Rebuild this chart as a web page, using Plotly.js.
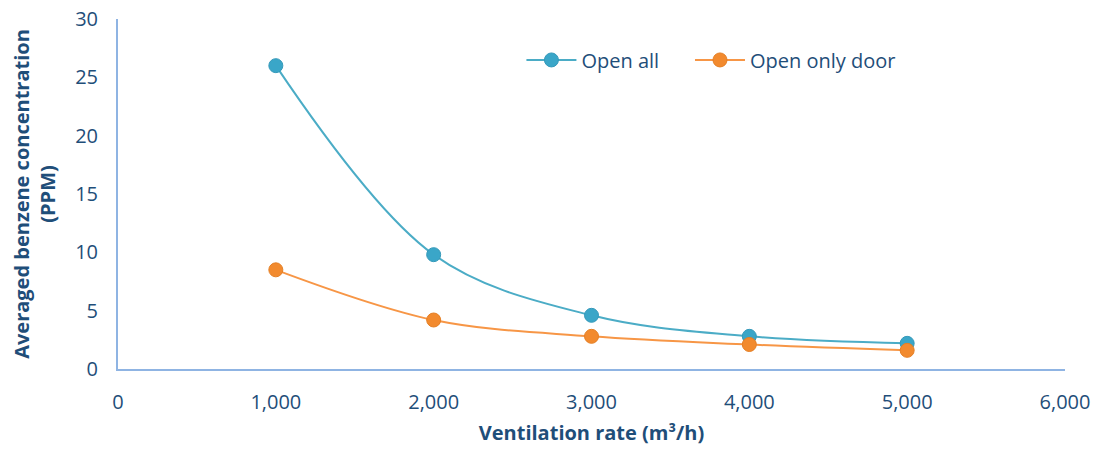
<!DOCTYPE html>
<html>
<head>
<meta charset="utf-8">
<script src="https://cdn.plot.ly/plotly-3.0.1.min.js"></script>
<style>html,body{margin:0;padding:0;background:#fff;}#chart{width:1097px;height:450px;}</style>
</head>
<body>
<div id="chart"></div>
<script>
const ventilationRates = [1000, 2000, 3000, 4000, 5000];
const openAll = [26.0, 9.8, 4.6, 2.8, 2.2];
const openOnlyDoor = [8.5, 4.2, 2.8, 2.1, 1.6];
const seriesNames = ["Open all", "Open only door"];
const xTickVals = [0, 1000, 2000, 3000, 4000, 5000, 6000];
const yTickVals = [0, 5, 10, 15, 20, 25, 30];

const textColor = "#1F4E79";
const fontFamily = "'Open Sans', 'Noto Sans', sans-serif";

const traces = [
  {
    x: ventilationRates, y: openAll, name: seriesNames[0], legend: "legend",
    type: "scatter", mode: "lines+markers",
    line: {color: "#4BACC6", width: 2, shape: "spline", smoothing: 1},
    marker: {color: "#3AA6C8", size: 14, line: {color: "#3499BA", width: 1}}
  },
  {
    x: ventilationRates, y: openOnlyDoor, name: seriesNames[1], legend: "legend2",
    type: "scatter", mode: "lines+markers",
    line: {color: "#F79646", width: 2, shape: "spline", smoothing: 1},
    marker: {color: "#F28A2E", size: 14, line: {color: "#E57F24", width: 1}}
  }
];

const legendBase = {
  orientation: "h", y: 0.883, xanchor: "left", yanchor: "middle",
  font: {size: 20, color: textColor}, bgcolor: "rgba(0,0,0,0)",
  itemwidth: 50
};

const layout = {
  width: 1097, height: 450,
  margin: {l: 118, r: 32, t: 19, b: 81},
  paper_bgcolor: "#fff", plot_bgcolor: "#fff",
  font: {family: fontFamily, color: textColor, size: 20},
  showlegend: true,
  legend: Object.assign({}, legendBase, {x: 0.426}),
  legend2: Object.assign({}, legendBase, {x: 0.604}),
  xaxis: {
    range: [0, 6000], tickvals: xTickVals, tickformat: ",d",
    showgrid: false, zeroline: false,
    showline: true, linecolor: "#8FB4E3", linewidth: 2,
    ticks: "outside", ticklen: 14, tickcolor: "rgba(0,0,0,0)",
    tickfont: {size: 20, color: textColor},
    title: {text: "<b>Ventilation rate (m³/h)</b>", font: {size: 20, color: textColor}, standoff: 12}
  },
  yaxis: {
    range: [0, 30], tickvals: yTickVals,
    showgrid: false, zeroline: false,
    showline: true, linecolor: "#8FB4E3", linewidth: 2,
    ticks: "outside", ticklen: 14, tickcolor: "rgba(0,0,0,0)",
    tickfont: {size: 20, color: textColor},
    title: {text: "<b>Averaged benzene concentration<br>(PPM)</b>", font: {size: 20, color: textColor}, standoff: 14}
  }
};

Plotly.newPlot("chart", traces, layout, {displayModeBar: false, staticPlot: true});
</script>
</body>
</html>
